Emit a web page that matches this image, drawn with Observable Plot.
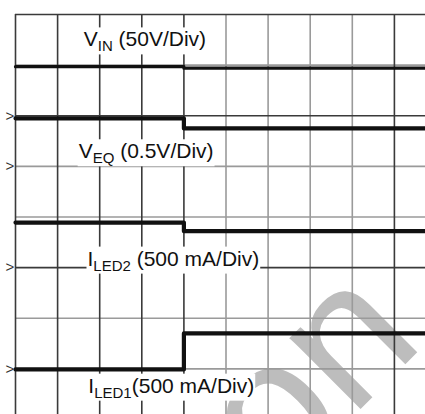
<!DOCTYPE html>
<html><head><meta charset="utf-8">
<script src="https://cdn.jsdelivr.net/npm/d3@7"></script>
<script src="https://cdn.jsdelivr.net/npm/@observablehq/plot@0.6"></script>
<style>
html,body{margin:0;padding:0;background:#fff;}
#chart{width:425px;height:414px;overflow:hidden;}
</style></head><body><div id="chart"></div>
<script>
// Oscilloscope graticule: 10 x 8 divisions (screen cropped at right and bottom)
const gridXDark = [0, 1, 2, 3, 4, 9];
const gridXLight = [5, 6, 7, 8];
const gridYDark = [8, 6, 3];
const gridYLight = [7, 5, 4, 2, 1];

// Traces (time in divisions, level in divisions), step at t = 4 div
const traceTime = [0, 4, 10];
const vin   = [6.97, 6.94, 6.94];
const veq   = [5.95, 5.75, 5.75];
const iled2 = [3.89, 3.72, 3.72];
const iled1 = [0.99, 1.70, 1.70];

// Channel ground markers
const markerLevels = [6, 5, 3, 1];

// Trace labels
const labelMain = ["V", "V", "I", "I"];
const labelSub  = ["IN", "EQ", "LED2", "LED1"];
const labelRest = [" (50V/Div)", " (0.5V/Div)", " (500 mA/Div)", "(500 mA/Div)"];
const labelX = [1.62, 1.50, 1.71, 1.73];
const labelY = [7.37, 5.16, 3.04, 0.53];

// Watermark
const watermarkText = ["on"];
const watermarkX = [6.2];
const watermarkY = [-1.45];

const series = [["VIN", vin], ["VEQ", veq], ["ILED2", iled2], ["ILED1", iled1]];
const traces = series.flatMap(([name, vals]) => traceTime.map((t, i) => ({name, t, v: vals[i]})));
const labels = labelMain.map((m, i) => ({text: m + labelSub[i] + labelRest[i], x: labelX[i], y: labelY[i]}));
const watermark = watermarkText.map((t, i) => ({text: t, x: watermarkX[i], y: watermarkY[i]}));

const chart = Plot.plot({
  width: 425, height: 414,
  marginTop: 14, marginLeft: 15, marginRight: -11, marginBottom: -5,
  x: {domain: [0, 10], axis: null},
  y: {domain: [0, 8], axis: null},
  style: {background: "#fff", fontFamily: "'Liberation Sans', Arial, Helvetica, sans-serif", overflow: "hidden"},
  marks: [
    Plot.text(watermark, {x: "x", y: "y", text: "text", rotate: -45, fontSize: 190, fill: "#bdbdbd", textAnchor: "start", lineAnchor: "bottom"}),
    Plot.ruleX(gridXLight, {stroke: "#9a9a9a", strokeWidth: 1.6}),
    Plot.ruleY(gridYLight, {stroke: "#9a9a9a", strokeWidth: 1.6}),
    Plot.ruleX(gridXDark, {stroke: "#3a3a3a", strokeWidth: 1.6}),
    Plot.ruleY(gridYDark, {stroke: "#3a3a3a", strokeWidth: 1.6}),
    Plot.line(traces.filter(d => d.name === "VIN"), {x: "t", y: "v", curve: "step-after", stroke: "#111", strokeWidth: 3.2}),
    Plot.line(traces.filter(d => d.name !== "VIN"), {x: "t", y: "v", z: "name", curve: "step-after", stroke: "#111", strokeWidth: 4.2}),
    Plot.text(markerLevels, {y: d => d, frameAnchor: "left", dx: -10, text: () => ">", fontSize: 15, fill: "#333"}),
    Plot.text(labels, {x: "x", y: "y", text: "text", textAnchor: "start", lineAnchor: "bottom", fontSize: 21, fill: "#111"})
  ]
});

document.getElementById("chart").append(chart);

// Subscripts and white knock-out boxes behind labels
const texts = Array.from(chart.querySelectorAll("text"));
labels.forEach((lab, k) => {
  const el = texts.find(e => e.textContent === lab.text);
  if (!el) return;
  const t = d3.select(el);
  t.text(null);
  t.append("tspan").text(labelMain[k]);
  t.append("tspan").attr("font-size", 15).attr("dy", 5).text(labelSub[k]);
  t.append("tspan").attr("dy", -5).text(labelRest[k]);
  const bb = el.getBBox();
  const rect = document.createElementNS("http://www.w3.org/2000/svg", "rect");
  el.parentNode.insertBefore(rect, el);
  d3.select(rect)
    .attr("transform", el.getAttribute("transform"))
    .attr("x", bb.x - 1).attr("y", bb.y).attr("width", bb.width + 2).attr("height", bb.height)
    .attr("fill", "#fff");
});
</script></body></html>
